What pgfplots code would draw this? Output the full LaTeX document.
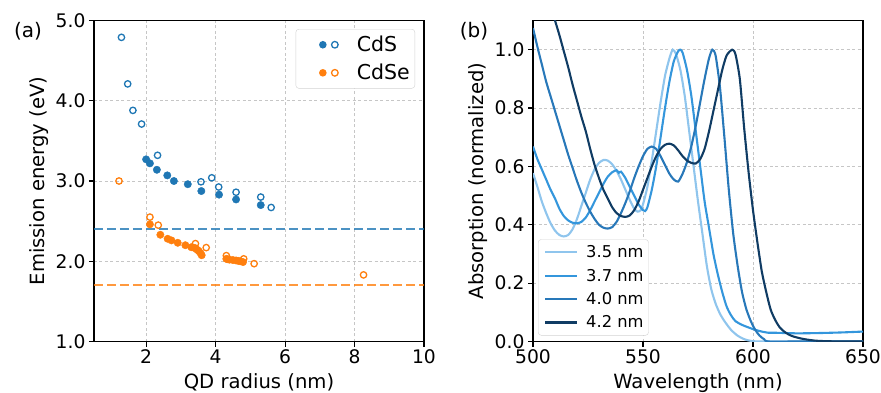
\documentclass[border=0pt]{standalone}
\usepackage{pgfplots}
\pgfplotsset{compat=1.18}
\usepackage{fontspec}
\setmainfont{DejaVu Sans}
\definecolor{tabblue}{HTML}{1F77B4}
\definecolor{taborange}{HTML}{FF7F0E}
\definecolor{c35}{RGB}{143,197,237}
\definecolor{c37}{RGB}{52,150,220}
\definecolor{c40}{RGB}{40,120,185}
\definecolor{c42}{RGB}{16,60,100}
\pgfplotsset{
  mystyle/.style={
    scale only axis, width=330pt, height=321pt,
    axis line style={line width=1.6pt},
    tick align=outside, tick pos=left,
    major tick length=5pt,
    every tick/.style={black, line width=1.1pt},
    grid=major,
    major grid style={gray!45, line width=0.7pt, dash pattern=on 3pt off 2.5pt},
    tick label style={font=\fontsize{18.7}{22}\selectfont},
    label style={font=\fontsize{19.6}{23}\selectfont},
    xlabel style={yshift=-3pt},
    /pgf/number format/assume math mode=true,
    legend cell align=left,
  }
}
\begin{document}
\begin{tikzpicture}
\begin{axis}[mystyle, at={(0pt,0pt)},
  xmin=0.5, xmax=10, ymin=1, ymax=5,
  xtick={2,4,6,8,10}, ytick={1,2,3,4,5},
  yticklabel style={/pgf/number format/.cd,fixed,fixed zerofill,precision=1},
  xlabel={QD radius (nm)}, ylabel={Emission energy (eV)},
  legend style={at={(1,1)}, anchor=north east, xshift=-9pt, yshift=-8.5pt,
    draw=gray!35, rounded corners=3pt, font=\fontsize{20.5}{24}\selectfont,
    row sep=7pt, inner xsep=3pt, inner ysep=5pt},
]
\addplot[tabblue, opacity=0.8, line width=2.2pt, dash pattern=on 9pt off 4pt, forget plot] coordinates {(0.5,2.4) (10,2.4)};
\addplot[taborange, opacity=0.8, line width=2.2pt, dash pattern=on 9pt off 4pt, forget plot] coordinates {(0.5,1.7) (10,1.7)};
% CdS filled
\addplot[only marks, mark=*, mark size=3.7pt, color=tabblue, forget plot] coordinates {
(2.00,3.27) (2.11,3.22) (2.31,3.14) (2.61,3.07) (2.80,3.00) (3.20,2.96) (3.59,2.875) (4.10,2.83) (4.59,2.77) (5.30,2.70)};
% CdS open
\addplot[only marks, mark=o, mark size=3.2pt, color=tabblue, mark options={line width=1.3pt}, forget plot] coordinates {
(1.29,4.79) (1.47,4.21) (1.62,3.88) (1.87,3.71) (2.33,3.32) (3.58,2.99) (3.89,3.04) (4.09,2.925) (4.59,2.86) (5.30,2.80) (5.60,2.67)};
% CdSe filled
\addplot[only marks, mark=*, mark size=3.7pt, color=taborange, forget plot] coordinates {
(2.11,2.46) (2.41,2.33) (2.62,2.28) (2.73,2.26) (2.91,2.23) (3.13,2.20) (3.30,2.175) (3.37,2.17) (3.43,2.16) (3.48,2.14) (3.52,2.125) (3.57,2.10) (3.60,2.075)
(4.31,2.03) (4.35,2.025) (4.40,2.02) (4.50,2.015) (4.59,2.01) (4.65,2.005) (4.71,2.00) (4.79,1.99)};
% CdSe open
\addplot[only marks, mark=o, mark size=3.2pt, color=taborange, mark options={line width=1.3pt}, forget plot] coordinates {
(1.22,3.00) (2.11,2.55) (2.35,2.45) (3.42,2.22) (3.73,2.17) (4.31,2.07) (4.81,2.03) (5.11,1.97) (8.26,1.83)};
\addlegendimage{legend image code/.code={
  \path[draw=none,fill=none] (0pt,0pt) -- (56pt,0pt);
  \fill[tabblue,draw=none] (24pt,0pt) circle (3.8pt);
  \draw[tabblue, fill=none, line width=1.3pt] (36pt,0pt) circle (3.3pt);}}
\addlegendentry{CdS}
\addlegendimage{legend image code/.code={
  \path[draw=none,fill=none] (0pt,0pt) -- (56pt,0pt);
  \fill[taborange,draw=none] (24pt,0pt) circle (3.8pt);
  \draw[taborange, fill=none, line width=1.3pt] (36pt,0pt) circle (3.3pt);}}
\addlegendentry{CdSe}
\end{axis}

\begin{axis}[mystyle, at={(439pt,0pt)},
  xmin=500, xmax=650, ymin=0, ymax=1.1,
  xtick={500,550,600,650}, ytick={0,0.2,0.4,0.6,0.8,1.0},
  yticklabel style={/pgf/number format/.cd,fixed,fixed zerofill,precision=1},
  xticklabel style={/pgf/number format/.cd,1000 sep={}},
  xlabel={Wavelength (nm)}, ylabel={Absorption (normalized)},
  legend style={at={(0,0)}, anchor=south west, xshift=5pt, yshift=6pt,
    draw=gray!35, rounded corners=3pt, font=\fontsize{16.3}{19}\selectfont,
    row sep=5.8pt, inner xsep=3pt, inner ysep=4pt},
  legend image code/.code={\path[draw=none] (0pt,0pt) -- (43pt,0pt); \draw[#1] (4pt,0pt) -- (36pt,0pt);},
  every axis plot/.append style={line width=2.1pt, smooth, tension=0.4},
]
\addplot[c35] coordinates {
(500,0.577) (502,0.53) (504,0.48) (506,0.44) (508,0.405) (510,0.38) (512,0.365) (514,0.36) (516,0.365) (518,0.385)
(520,0.42) (522,0.465) (524,0.51) (526,0.555) (528,0.59) (530,0.612) (532,0.622) (534,0.62) (536,0.607) (538,0.585)
(540,0.555) (542,0.52) (544,0.485) (546,0.455) (547.5,0.445) (549,0.45) (550,0.47) (552,0.53) (554,0.62) (556,0.72)
(558,0.82) (560,0.91) (562,0.97) (563.5,1.0) (565,0.985) (567,0.93) (569,0.84) (571,0.72) (573,0.6) (575,0.48)
(577,0.37) (579,0.26) (581,0.18) (583,0.13) (585,0.095) (587,0.07) (590,0.04) (593,0.02) (596,0.008) (600,0.001) (610,0) (650,0)};
\addlegendentry{3.5 nm}
\addplot[c37] coordinates {
(500,0.668) (502,0.625) (504,0.59) (506,0.555) (508,0.52) (510,0.49) (512,0.455) (514,0.43) (516,0.415) (518,0.407)
(520,0.405) (522,0.41) (524,0.425) (526,0.45) (528,0.48) (530,0.51) (532,0.54) (534,0.565) (536,0.58) (538,0.587)
(539,0.578) (540,0.582) (542,0.56) (544,0.53) (546,0.5) (548,0.47) (550,0.45) (551,0.447) (552,0.46) (554,0.52)
(556,0.6) (558,0.7) (560,0.8) (562,0.89) (564,0.96) (566,0.995) (567,1.0) (568,0.99) (570,0.93) (572,0.84)
(574,0.72) (576,0.6) (578,0.48) (580,0.39) (582,0.3) (584,0.23) (586,0.17) (588,0.12) (590,0.09) (592,0.07)
(595,0.057) (598,0.048) (601,0.04) (604,0.034) (607,0.03) (610,0.03) (620,0.028) (630,0.029) (640,0.031) (650,0.034)};
\addlegendentry{3.7 nm}
\addplot[c40] coordinates {
(500,1.074) (502,1.01) (504,0.95) (506,0.89) (508,0.84) (510,0.79) (512,0.74) (514,0.69) (516,0.64) (518,0.595)
(520,0.55) (522,0.51) (524,0.475) (526,0.445) (528,0.42) (530,0.4) (532,0.39) (534,0.387) (536,0.392) (538,0.41)
(540,0.44) (542,0.475) (544,0.515) (546,0.56) (548,0.6) (550,0.635) (552,0.66) (554,0.668) (556,0.66) (558,0.635)
(560,0.605) (562,0.575) (564,0.555) (566,0.548) (568,0.575) (570,0.615) (572,0.67) (574,0.74) (576,0.82) (578,0.9)
(580,0.97) (581.5,1.0) (583,0.98) (585,0.87) (587,0.7) (589,0.52) (591,0.37) (593,0.26) (595,0.17) (597,0.11)
(599,0.07) (601,0.04) (603,0.02) (605,0.008) (607,0) (620,0) (650,0)};
\addlegendentry{4.0 nm}
\addplot[c42] coordinates {
(500,1.36) (505,1.23) (508,1.15) (510,1.1) (512,1.05) (514,0.995) (516,0.94) (518,0.88) (520,0.825) (522,0.77)
(524,0.72) (526,0.66) (528,0.605) (530,0.56) (532,0.52) (534,0.49) (536,0.46) (538,0.44) (540,0.43) (542,0.427)
(544,0.432) (546,0.45) (548,0.48) (550,0.52) (552,0.56) (554,0.6) (556,0.635) (558,0.66) (560,0.674) (562,0.678)
(564,0.672) (566,0.655) (568,0.635) (570,0.62) (572,0.612) (574,0.61) (576,0.625) (578,0.66) (580,0.72) (582,0.79)
(584,0.86) (586,0.93) (588,0.98) (590.5,1.0) (592,0.985) (594,0.9) (596,0.73) (598,0.58) (600,0.45) (602,0.34)
(604,0.24) (606,0.17) (608,0.11) (610,0.075) (612,0.05) (614,0.035) (616,0.025) (618,0.018) (622,0.01) (626,0.005)
(630,0.002) (640,0) (650,0)};
\addlegendentry{4.2 nm}
\end{axis}
\node[font=\fontsize{20}{24}\selectfont] at (-66pt,310pt) {(a)};
\node[font=\fontsize{20}{24}\selectfont] at (380pt,310pt) {(b)};
\pgfresetboundingbox
\path (-94pt,-50.5pt) rectangle (787pt,341.5pt);
\end{tikzpicture}
\end{document}
